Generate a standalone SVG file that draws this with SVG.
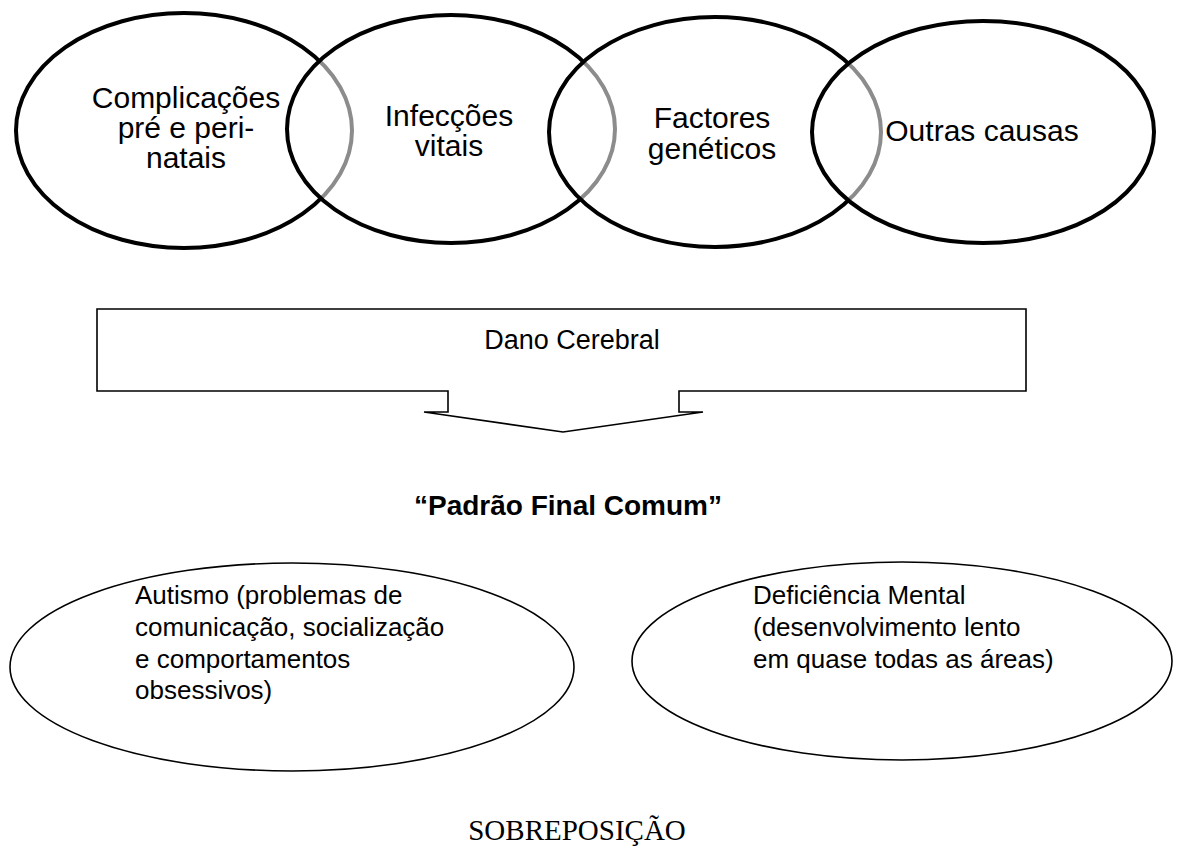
<svg xmlns="http://www.w3.org/2000/svg" width="1180" height="846" viewBox="0 0 1180 846">
<style>
.venn{fill:#fff;fill-opacity:0.55;stroke:#000;stroke-width:4}
.t{font-family:"Liberation Sans",Arial,sans-serif;fill:#000}
.top{font-size:30px;text-anchor:middle}
.bot{font-size:26px}
.thin{fill:#fff;stroke:#000;stroke-width:1.6}
</style>
<rect width="1180" height="846" fill="#fff"/>
<g id="complicacoes">
<ellipse class="venn" cx="184" cy="130.5" rx="168" ry="117.5"/>
<text class="t top"><tspan x="186" y="108">Complicações</tspan><tspan x="186" y="138">pré e peri-</tspan><tspan x="186" y="168">natais</tspan></text>
</g>
<g id="infeccoes">
<ellipse class="venn" cx="451" cy="129" rx="164" ry="114"/>
<text class="t top"><tspan x="449" y="126">Infecções</tspan><tspan x="449" y="156">vitais</tspan></text>
</g>
<g id="factores">
<ellipse class="venn" cx="715" cy="132" rx="166" ry="115"/>
<text class="t top"><tspan x="712" y="128">Factores</tspan><tspan x="712" y="159">genéticos</tspan></text>
</g>
<g id="outras">
<ellipse class="venn" cx="983" cy="132" rx="171" ry="111"/>
<text class="t top" x="982" y="141">Outras causas</text>
</g>
<g id="dano">
<path class="thin" d="M97,309 H1026 V391 H679 V412 H703 L563,432 L424,412 H448 V391 H97 Z"/>
<text class="t" style="font-size:27px;text-anchor:middle" x="572" y="349">Dano Cerebral</text>
</g>
<g id="padrao">
<text class="t" style="font-size:28px;font-weight:bold;text-anchor:middle" x="568" y="515">“Padrão Final Comum”</text>
</g>
<g id="autismo">
<ellipse class="thin" cx="292" cy="667" rx="282" ry="104"/>
<text class="t bot"><tspan x="135" y="604">Autismo (problemas de</tspan><tspan x="135" y="636">comunicação, socialização</tspan><tspan x="135" y="668">e comportamentos</tspan><tspan x="135" y="699">obsessivos)</tspan></text>
</g>
<g id="deficiencia">
<ellipse class="thin" cx="902" cy="661" rx="270" ry="99"/>
<text class="t bot"><tspan x="753" y="604">Deficiência Mental</tspan><tspan x="753" y="636">(desenvolvimento lento</tspan><tspan x="753" y="668">em quase todas as áreas)</tspan></text>
</g>
<g id="sobreposicao">
<text style="font-family:'Liberation Serif','Times New Roman',serif;font-size:29px;text-anchor:middle" x="577" y="840">SOBREPOSIÇÃO</text>
</g>
<g id="connectors"></g>
</svg>
